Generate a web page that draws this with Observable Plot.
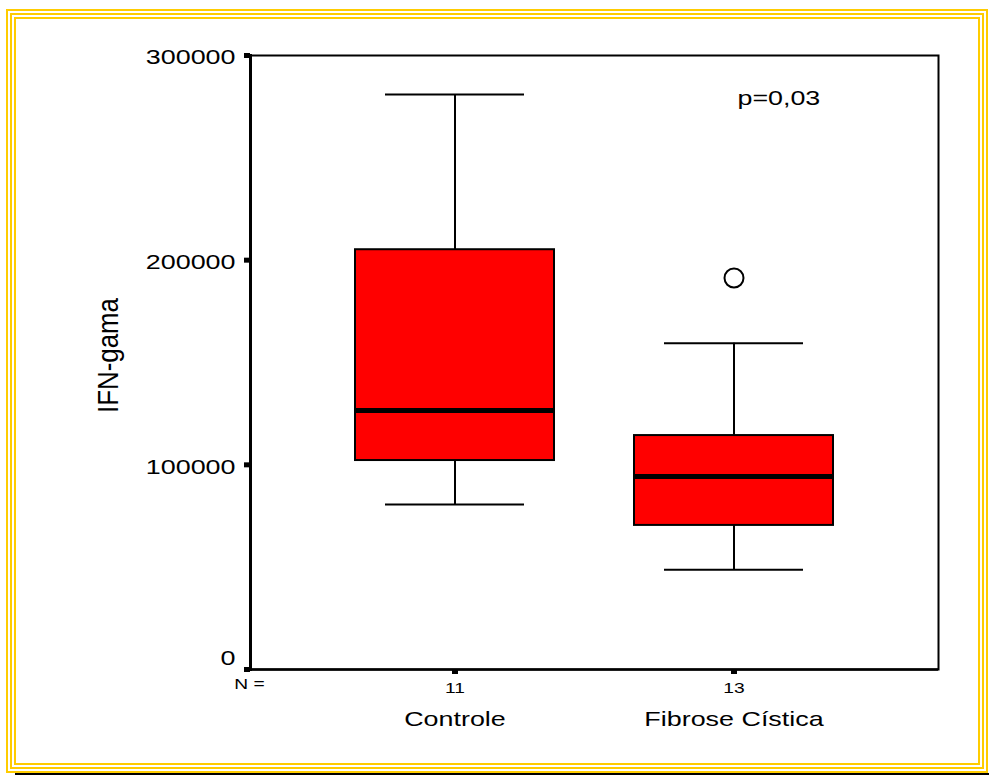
<!DOCTYPE html>
<html>
<head>
<meta charset="utf-8">
<script src="https://cdn.jsdelivr.net/npm/d3@7"></script>
<script src="https://cdn.jsdelivr.net/npm/@observablehq/plot@0.6"></script>
<style>
  body { margin: 0; background: white; }
  #wrap { position: relative; width: 989px; height: 775px; overflow: hidden; }
  #wrap svg { position: absolute; left: 0; top: 0; }
  .bd { position: absolute; box-sizing: border-box; border-style: solid; border-color: #ffcc00; pointer-events: none; }
</style>
</head>
<body>
<div id="wrap"></div>
<script>
const groups = ["Controle", "Fibrose Cística"];
const nCounts = [11, 13];
const whiskerLow = [80600, 48700];
const q1 = [102100, 70400];
const median = [126500, 94300];
const q3 = [205100, 114300];
const whiskerHigh = [280900, 159400];
const outlierGroup = ["Fibrose Cística"];
const outlierValue = [191300];
const yTicks = [0, 100000, 200000, 300000];
const yLabel = "IFN-gama";
const pLabel = "p=0,03";
const nLabel = "N =";

const boxes = groups.map((g, i) => ({
  group: g, n: nCounts[i], lo: whiskerLow[i], q1: q1[i], med: median[i], q3: q3[i], hi: whiskerHigh[i]
}));
const outliers = outlierGroup.map((g, i) => ({group: g, value: outlierValue[i]}));

const chart = Plot.plot({
  width: 989,
  height: 775,
  marginLeft: 250,
  marginRight: 51,
  marginTop: 55,
  marginBottom: 106,
  style: {fontFamily: "'Liberation Sans', Arial, sans-serif", color: "black", background: "transparent"},
  x: {type: "band", domain: groups, paddingInner: 0.285714, paddingOuter: 0.371429, align: 0.5, axis: null},
  y: {domain: [0, 300000], axis: null},
  marks: [
    Plot.frame({stroke: "black", strokeWidth: 2}),
    Plot.ruleX(boxes, {x: "group", y1: "lo", y2: "q1", stroke: "black", strokeWidth: 2}),
    Plot.ruleX(boxes, {x: "group", y1: "q3", y2: "hi", stroke: "black", strokeWidth: 2}),
    Plot.tickY(boxes, {x: "group", y: "lo", insetLeft: 30, insetRight: 30, stroke: "black", strokeWidth: 2}),
    Plot.tickY(boxes, {x: "group", y: "hi", insetLeft: 30, insetRight: 30, stroke: "black", strokeWidth: 2}),
    Plot.rectY(boxes, {x: "group", y1: "q1", y2: "q3", fill: "#ff0000", stroke: "black", strokeWidth: 2}),
    Plot.tickY(boxes, {x: "group", y: "med", stroke: "black", strokeWidth: 5, insetLeft: 1, insetRight: 1}),
    Plot.dot(outliers, {x: "group", y: "value", r: 9.5, stroke: "black", strokeWidth: 2, fill: "white"}),
    Plot.frame({anchor: "left", stroke: "black", strokeWidth: 3}),
    Plot.ruleY([0], {stroke: "black", strokeWidth: 2.5}),
    Plot.axisY({ticks: yTicks, tickSize: 6, strokeWidth: 5, tickFormat: () => "", label: null}),
    Plot.text(yTicks.filter(d => d > 0), {y: d => d, text: d => String(d), frameAnchor: "left", textAnchor: "end", dx: -15, dy: 2, fontSize: 21}),
    Plot.text(yTicks.filter(d => d === 0), {y: d => d, text: d => String(d), frameAnchor: "left", textAnchor: "end", dx: -15, dy: -11, fontSize: 21}),
    Plot.axisX({tickSize: 5, strokeWidth: 6, tickPadding: 8, fontSize: 15, tickFormat: d => String(nCounts[groups.indexOf(d)]), label: null}),
    Plot.axisX({tickSize: 0, tickPadding: 42, fontSize: 21, label: null}),
    Plot.text([nLabel], {text: d => d, frameAnchor: "bottom-left", textAnchor: "middle", dx: -1, dy: 19, fontSize: 15}),
    Plot.text([pLabel], {text: d => d, frameAnchor: "top-left", textAnchor: "start", lineAnchor: "top", dx: 487, dy: 35, fontSize: 20}),
    Plot.text([yLabel], {text: d => d, frameAnchor: "left", rotate: -90, textAnchor: "middle", dx: -142, dy: -7, fontSize: 30})
  ]
});

const wrap = document.getElementById("wrap");
wrap.appendChild(chart);

// Horizontal stretch of the lettering, as in the original (SPSS export scaled wide)
chart.querySelectorAll("text").forEach(t => {
  const s = t.textContent;
  if (!s) return;
  const natural = t.getComputedTextLength();
  if (!natural) return;
  let target;
  if (s === yLabel) target = 115;
  else if (s === pLabel) target = natural * 1.34;
  else target = natural * 1.28;
  t.setAttribute("textLength", target.toFixed(1));
  t.setAttribute("lengthAdjust", "spacingAndGlyphs");
});

function addDiv(cls, css) {
  const d = document.createElement("div");
  d.className = cls;
  Object.assign(d.style, css);
  wrap.appendChild(d);
}
addDiv("bd", {left: "6px", top: "9px", width: "982px", height: "764px", borderWidth: "2.6px"});
addDiv("bd", {left: "10px", top: "12.6px", width: "974px", height: "756px", borderWidth: "2.3px"});
addDiv("bd", {left: "14px", top: "16.6px", width: "966px", height: "748px", borderWidth: "2.3px"});
addDiv("", {position: "absolute", left: "15px", top: "773.3px", width: "974px", height: "1.8px", background: "black"});
</script>
</body>
</html>
